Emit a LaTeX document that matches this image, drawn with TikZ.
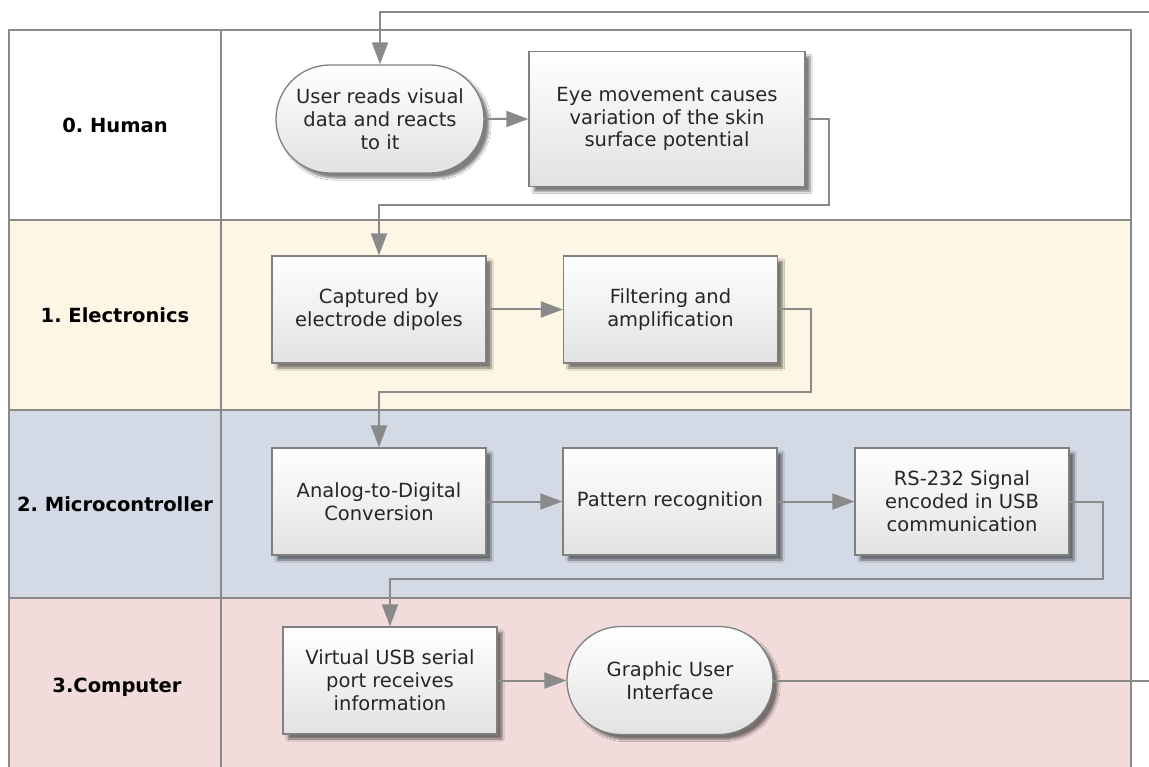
\documentclass[tikz,border=0pt]{standalone}
\usepackage{fontspec}
\setmainfont{DejaVu Sans}
\frenchspacing
\usetikzlibrary{arrows.meta,shapes.misc,shadows,shadows.blur}
\definecolor{linea}{HTML}{8A8A8A}
\definecolor{borde}{HTML}{808080}
\definecolor{relleno}{HTML}{E2E2E2}
\definecolor{crema}{HTML}{FDF6E4}
\definecolor{azulgris}{HTML}{D3DAE5}
\definecolor{rosa}{HTML}{F1DBDB}
\tikzset{
  every node/.style = {font=\fontsize{19.5}{22.9}\selectfont, text=black!85},
  paso/.style       = {draw=borde, line width=1.3pt, top color=white,
                       bottom color=relleno, minimum width=214pt,
                       minimum height=107pt, inner sep=4pt, align=center,
                       blur shadow={shadow xshift=5pt, shadow yshift=-5pt,
                       shadow opacity=50, shadow blur steps=6}},
  % los extremos del proceso van como terminales redondeados
  inicio/.style     = {paso, rounded rectangle, minimum width=216pt,
                       minimum height=108pt},
  flecha/.style     = {-{Triangle[length=22pt,width=16pt]}, draw=linea,
                       line width=2pt},
  carril/.style     = {draw=linea, line width=1.6pt},
  etiqueta/.style   = {font=\fontsize{19.5}{22.7}\selectfont\bfseries,
                       text=black},
}
\begin{document}
\begin{tikzpicture}[x=1pt, y=-1pt]
\useasboundingbox (0,0) rectangle (1149,767);
\clip (0,0) rectangle (1149,767);

% =============================================================================
% CARRILES. Una franja por nivel del sistema
% =============================================================================
\fill[white]    (9,30)  rectangle (1131,220);
\fill[crema]    (9,220) rectangle (1131,410);
\fill[azulgris] (9,410) rectangle (1131,598);
\fill[rosa]     (9,598) rectangle (1131,790);
\draw[carril] (9,790) -- (9,30) -- (1131,30) -- (1131,790);
\draw[carril] (9,220) -- (1131,220);
\draw[carril] (9,410) -- (1131,410);
\draw[carril] (9,598) -- (1131,598);
\draw[carril] (221,30) -- (221,790);

\node[etiqueta] (lh) at (115,125) {0. Human};
\node[etiqueta] (le) at (115,315) {1. Electronics};
\node[etiqueta] (lm) at (115,504) {2. Microcontroller};
\node[etiqueta] (lc) at (117,687) {3.Computer};

% =============================================================================
% NIVEL 0. Humano
% =============================================================================
\node[inicio] (user) at (380,119) {User reads visual\\data and reacts\\to it};
\node[paso, minimum width=276pt, minimum height=135pt] (eye) at (667,119)
  {Eye movement causes\\variation of the skin\\surface potential};

% =============================================================================
% NIVEL 1. Electronica
% =============================================================================
\node[paso] (capt) at (379,309.5) {Captured by\\electrode dipoles};
\node[paso] (filt) at (670.5,309.5) {Filtering and\\amplification};

% =============================================================================
% NIVEL 2. Microcontrolador
% =============================================================================
\node[paso] (adc) at (379,501.5) {Analog-to-Digital\\Conversion};
\node[paso] (patt) at (670,501.5) {Pattern recognition};
\node[paso] (rs) at (962,501.5) {RS-232 Signal\\encoded in USB\\communication};

% =============================================================================
% NIVEL 3. Ordenador
% =============================================================================
\node[paso] (virt) at (390,680.5) {Virtual USB serial\\port receives\\information};
\node[inicio, minimum width=214pt] (gui) at (670,680.5) {Graphic User\\Interface};

% conexiones
\coordinate (r1) at (829,205);
\coordinate (r2) at (811,392);
\coordinate (r3) at (1103,579);
\coordinate (vuelta) at (1175,12);

\draw[flecha] (user) -- (eye);
\draw[flecha] (eye.east) -| (r1) -| (capt.north);
\draw[flecha] (capt) -- (filt);
\draw[flecha] (filt.east) -| (r2) -| (adc.north);
\draw[flecha] (adc) -- (patt);
\draw[flecha] (patt) -- (rs);
\draw[flecha] (rs.east) -| (r3) -| (virt.north);
\draw[flecha] (virt) -- (gui);
\draw[flecha] (gui.east) -| (vuelta) -| (user.north);

\end{tikzpicture}
\end{document}
